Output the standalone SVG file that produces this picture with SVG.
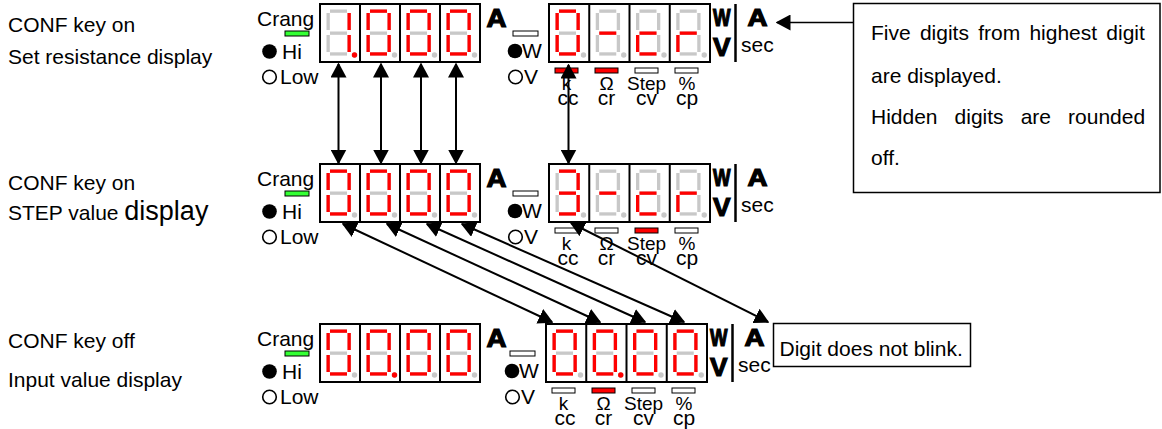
<svg xmlns="http://www.w3.org/2000/svg" xmlns:xlink="http://www.w3.org/1999/xlink" width="1162" height="429" viewBox="0 0 1162 429">
<style>
text{font-family:"Liberation Sans",Arial,sans-serif;fill:#000}
.lbl{font-size:21px}
.sm{font-size:19px}
.bd{font-family:"Liberation Sans",Arial,sans-serif;font-weight:bold;font-size:23px;stroke:#000;stroke-width:1.2}
.bdl{font-size:25px}
.dbox{fill:#fff;stroke:#000;stroke-width:2}
.dv{stroke:#000;stroke-width:2}
.on{fill:#ff0000}
.off{fill:#c8c8c8}
.ind{stroke:#000;stroke-width:1}
.ion{fill:#ff0000}
.ioff{fill:#fff}
.grn{fill:#33ff33;stroke:#000;stroke-width:1}
.dot{fill:#000}
.ring{fill:none;stroke:#000;stroke-width:1.6}
.bar{stroke:#000;stroke-width:2.5}
.conn{stroke:#000;stroke-width:2;fill:none;marker-start:url(#ah);marker-end:url(#ah)}
.conn1{stroke:#000;stroke-width:1.5;fill:none;marker-end:url(#ah)}
.note{fill:#fff;stroke:#000;stroke-width:1.5}
</style>
<defs>
<marker id="ah" markerUnits="userSpaceOnUse" markerWidth="15" markerHeight="16" viewBox="0 0 15 16" refX="13.5" refY="8" orient="auto-start-reverse"><path d="M0,0 L15,8 L0,16 z" fill="#000"/></marker>
<rect id="sa" x="10" y="5.5" width="17" height="3.3"/>
<rect id="sb" x="27.5" y="9" width="3.3" height="17"/>
<rect id="sc" x="27.5" y="31" width="3.3" height="17"/>
<rect id="sd" x="10" y="48.3" width="17" height="3.3"/>
<rect id="se" x="6.5" y="31" width="3.3" height="17"/>
<rect id="sf" x="6.5" y="9" width="3.3" height="17"/>
<rect id="sg" x="10" y="27.5" width="17" height="3.3"/>
<circle id="sp" cx="34.5" cy="51" r="2.7"/>
<g id="d8" class="off"><use href="#sa"/><use href="#sb"/><use href="#sc"/><use href="#sd"/><use href="#se"/><use href="#sf"/><use href="#sg"/><use href="#sp"/></g>
<g id="r0" class="on"><use href="#sa"/><use href="#sb"/><use href="#sc"/><use href="#sd"/><use href="#se"/><use href="#sf"/></g>
<g id="r1" class="on"><use href="#sb"/><use href="#sc"/></g>
<g id="r3" class="on"><use href="#sa"/><use href="#sb"/><use href="#sc"/><use href="#sd"/><use href="#sg"/></g>
<g id="rm" class="on"><use href="#sg"/></g>
<g id="rc" class="on"><use href="#sg"/><use href="#se"/><use href="#sd"/></g>
<g id="rr" class="on"><use href="#sg"/><use href="#se"/></g>
<g id="rp" class="on"><use href="#sp"/></g>
<g id="leftblk">
<text class="lbl" x="257" y="25.5">Crang</text>
<rect class="grn" x="285" y="31" width="24" height="5"/>
<circle class="dot" cx="269.5" cy="51.5" r="7.3"/>
<text class="lbl" x="282" y="59">Hi</text>
<circle class="ring" cx="269.5" cy="77" r="6.8"/>
<text class="lbl" x="280" y="83.5">Low</text>
<rect class="dbox" x="320" y="4" width="160" height="58"/>
<line class="dv" x1="360" y1="4" x2="360" y2="62"/>
<line class="dv" x1="400" y1="4" x2="400" y2="62"/>
<line class="dv" x1="440" y1="4" x2="440" y2="62"/>
<text class="bd bdl" x="486.5" y="27" textLength="20" lengthAdjust="spacingAndGlyphs">A</text>
</g>
<g id="rightblk">
<rect class="ind ioff" x="513" y="31" width="25" height="5"/>
<circle class="dot" cx="515" cy="51" r="7.3"/>
<text class="lbl" x="522" y="58">W</text>
<circle class="ring" cx="515.5" cy="77" r="6.8"/>
<text class="lbl" x="524" y="83.5">V</text>
<rect class="dbox" x="549" y="4" width="161" height="58"/>
<line class="dv" x1="589.25" y1="4" x2="589.25" y2="62"/>
<line class="dv" x1="629.5" y1="4" x2="629.5" y2="62"/>
<line class="dv" x1="669.75" y1="4" x2="669.75" y2="62"/>
<text class="sm" x="566.5" y="89.5" text-anchor="middle">k</text>
<text class="sm" x="606.5" y="89.5" text-anchor="middle">Ω</text>
<text class="sm" x="646.5" y="89.5" text-anchor="middle">Step</text>
<text class="sm" x="687" y="89.5" text-anchor="middle">%</text>
<text class="lbl" x="568" y="105" text-anchor="middle">cc</text>
<text class="lbl" x="606.5" y="105" text-anchor="middle">cr</text>
<text class="lbl" x="646.5" y="105" text-anchor="middle">cv</text>
<text class="lbl" x="687" y="105" text-anchor="middle">cp</text>
<text class="bd" x="713" y="26" textLength="17.5" lengthAdjust="spacingAndGlyphs">W</text>
<text class="bd bdl" x="713" y="56" textLength="17.5" lengthAdjust="spacingAndGlyphs">V</text>
<line class="bar" x1="735.5" y1="4" x2="735.5" y2="62"/>
<text class="bd" x="747.5" y="26" textLength="20" lengthAdjust="spacingAndGlyphs">A</text>
<text class="lbl" x="741" y="52" font-size="20">sec</text>
</g>
</defs>

<g id="labels">
<text class="lbl" x="8" y="32">CONF key on</text>
<text class="lbl" x="8" y="64">Set resistance display</text>
<text class="lbl" x="8" y="190">CONF key on</text>
<text class="lbl" x="8" y="220">STEP value <tspan font-size="27">display</tspan></text>
<text class="lbl" x="8" y="348">CONF key off</text>
<text class="lbl" x="8" y="386.5">Input value display</text>
</g>

<g id="row1-left">
<use href="#leftblk"/>
<use href="#d8" x="320" y="4"/><use href="#r1" x="320" y="4"/><use href="#rp" x="320" y="4"/>
<use href="#d8" x="360" y="4"/><use href="#r0" x="360" y="4"/>
<use href="#d8" x="400" y="4"/><use href="#r0" x="400" y="4"/>
<use href="#d8" x="440" y="4"/><use href="#r0" x="440" y="4"/>
</g>
<g id="row1-right">
<use href="#rightblk"/>
<rect class="ind ion" x="555" y="68" width="23" height="5"/>
<rect class="ind ion" x="595" y="68" width="23" height="5"/>
<rect class="ind ioff" x="635" y="68" width="23" height="5"/>
<rect class="ind ioff" x="675" y="68" width="23" height="5"/>
<use href="#d8" x="549" y="4"/><use href="#r0" x="549" y="4"/>
<use href="#d8" x="589.25" y="4"/><use href="#rm" x="589.25" y="4"/>
<use href="#d8" x="629.5" y="4"/><use href="#rc" x="629.5" y="4"/>
<use href="#d8" x="669.75" y="4"/><use href="#rr" x="669.75" y="4"/>
</g>

<g id="row2-left">
<use href="#leftblk" y="160"/>
<use href="#d8" x="320" y="164"/><use href="#r0" x="320" y="164"/>
<use href="#d8" x="360" y="164"/><use href="#r0" x="360" y="164"/>
<use href="#d8" x="400" y="164"/><use href="#r0" x="400" y="164"/>
<use href="#d8" x="440" y="164"/><use href="#r0" x="440" y="164"/>
</g>
<g id="row2-right">
<use href="#rightblk" y="160"/>
<rect class="ind ioff" x="555" y="228" width="23" height="5"/>
<rect class="ind ioff" x="595" y="228" width="23" height="5"/>
<rect class="ind ion" x="635" y="228" width="23" height="5"/>
<rect class="ind ioff" x="675" y="228" width="23" height="5"/>
<use href="#d8" x="549" y="164"/><use href="#r3" x="549" y="164"/>
<use href="#d8" x="589.25" y="164"/><use href="#rm" x="589.25" y="164"/>
<use href="#d8" x="629.5" y="164"/><use href="#rc" x="629.5" y="164"/>
<use href="#d8" x="669.75" y="164"/><use href="#rr" x="669.75" y="164"/>
</g>

<g id="row3-left">
<use href="#leftblk" y="320"/>
<use href="#d8" x="320" y="324"/><use href="#r0" x="320" y="324"/>
<use href="#d8" x="360" y="324"/><use href="#r0" x="360" y="324"/><use href="#rp" x="360" y="324"/>
<use href="#d8" x="400" y="324"/><use href="#r0" x="400" y="324"/>
<use href="#d8" x="440" y="324"/><use href="#r0" x="440" y="324"/>
</g>
<g id="row3-right">
<use href="#rightblk" x="-3" y="320"/>
<rect class="ind ioff" x="552" y="388" width="23" height="5"/>
<rect class="ind ion" x="592" y="388" width="23" height="5"/>
<rect class="ind ioff" x="632" y="388" width="23" height="5"/>
<rect class="ind ioff" x="672" y="388" width="23" height="5"/>
<use href="#d8" x="546" y="324"/><use href="#r0" x="546" y="324"/>
<use href="#d8" x="586.25" y="324"/><use href="#r0" x="586.25" y="324"/><use href="#rp" x="586.25" y="324"/>
<use href="#d8" x="626.5" y="324"/><use href="#r0" x="626.5" y="324"/>
<use href="#d8" x="666.75" y="324"/><use href="#r0" x="666.75" y="324"/>
</g>

<g id="note-rounding">
<rect class="note" x="853.5" y="3.5" width="306.5" height="189"/>
<text class="lbl" x="871" y="39.5" word-spacing="3.4">Five digits from highest digit</text>
<text class="lbl" x="871" y="82.5">are displayed.</text>
<text class="lbl" x="871" y="123.5" word-spacing="11.2">Hidden digits are rounded</text>
<text class="lbl" x="871" y="165">off.</text>
</g>
<g id="note-blink">
<rect class="note" x="773.5" y="323.5" width="197" height="43" stroke-width="2"/>
<text class="lbl" x="779.5" y="356">Digit does not blink.</text>
</g>

<g id="connectors">
<line class="conn" x1="338.5" y1="64" x2="338.5" y2="163"/>
<line class="conn" x1="381" y1="64" x2="381" y2="163"/>
<line class="conn" x1="421" y1="64" x2="421" y2="163"/>
<line class="conn" x1="456" y1="64" x2="456" y2="163"/>
<line class="conn" x1="568.5" y1="65" x2="568.5" y2="163"/>
<line class="conn" x1="343" y1="224" x2="552" y2="322"/>
<line class="conn" x1="387" y1="224" x2="600" y2="322"/>
<line class="conn" x1="427" y1="224" x2="645" y2="322"/>
<line class="conn" x1="462" y1="224" x2="684" y2="322"/>
<line class="conn" x1="571" y1="223" x2="768" y2="322"/>
<line class="conn1" x1="853" y1="22.5" x2="777" y2="22.5"/>
</g>
</svg>
